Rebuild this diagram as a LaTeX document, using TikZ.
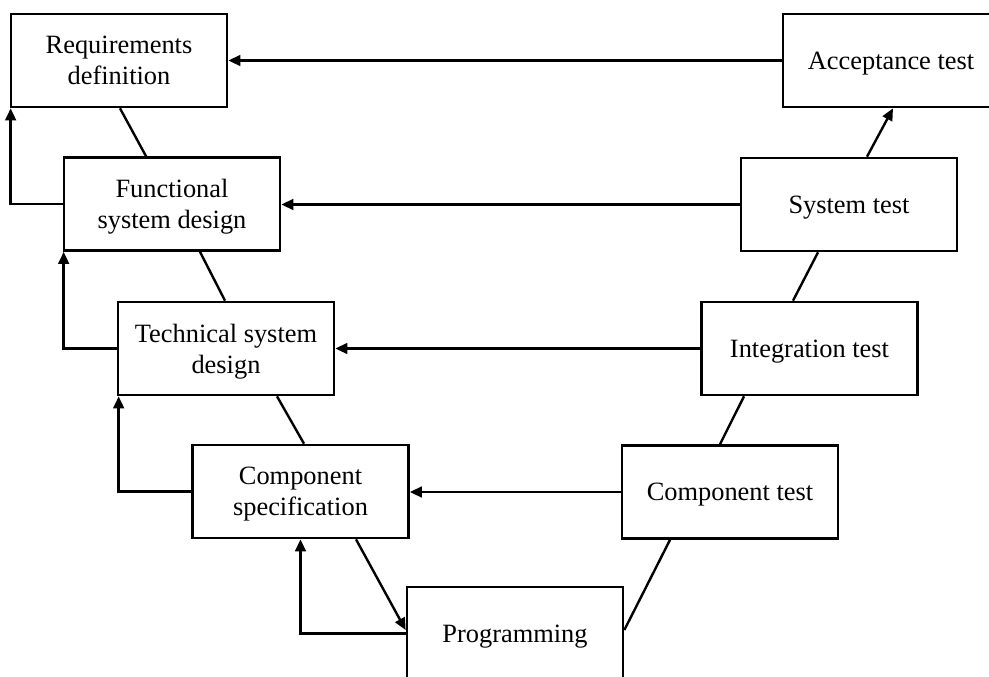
\documentclass[tikz,border=0pt]{standalone}
\usepackage{fontspec}
\setmainfont{Liberation Serif}
\usetikzlibrary{arrows.meta, calc}

\begin{document}
\begin{tikzpicture}[
  x=0.75pt, y=-0.75pt,
  box/.style={draw, line width=2pt, minimum width=162pt, minimum height=69.75pt, align=center, inner sep=2pt, text depth=-3.2pt, font=\fontsize{19.8}{23.2}\selectfont},
  link/.style={line width=1.8pt},
  arr/.style={line width=1.8pt, -{Triangle[length=9pt, width=8pt]}}
]
\fill[white] (0,0) rectangle (989,676);
\useasboundingbox (0,0) rectangle (989,676);
\clip (0,0) rectangle (989,676);

\node[box, text depth=-7.5pt] (req) at (119,60.5) {Requirements\\definition};
\node[box] (acc) at (891,60.5) {Acceptance test};
\node[box] (func) at (172,204) {Functional\\system design};
\node[box] (sys) at (849,204.5) {System test};
\node[box] (tech) at (226,348.5) {Technical system\\design};
\node[box] (int) at (809.5,348.5) {Integration test};
\node[box] (spec) at (300.5,491.5) {Component\\specification};
\node[box] (ctest) at (730,492) {Component test};
\node[box] (prog) at (515,633.5) {Programming};

\draw[arr] (acc.west) -- (acc.west -| req.east);
\draw[arr] (sys.west) -- (sys.west -| func.east);
\draw[arr] (int.west) -- (int.west -| tech.east);
\draw[arr] (ctest.west) -- (ctest.west -| spec.east);

\draw[arr] (func.west) -| ($(req.south west)+(1,0)$);
\draw[arr] (tech.west) -| ($(func.south west)+(1,0)$);
\draw[arr] (spec.west) -| ($(tech.south west)+(2,0)$);
\draw[arr] (prog.west) -| (spec.south);

\draw[link] ($(req.south)+(1,0)$) -- ($(func.north)+(-26,0)$);
\draw[link] ($(func.south)+(28,0)$) -- ($(tech.north)+(-1,0)$);
\draw[link] ($(tech.south)+(51,0)$) -- ($(spec.north)+(3.5,0)$);
\draw[arr] ($(spec.south)+(55.5,0)$) -- ($(prog.west)+(0,-3.5)$);
\draw[link] ($(prog.east)+(0,-3.5)$) -- ($(ctest.south)+(-60,0)$);
\draw[link] ($(ctest.north)+(-10,0)$) -- ($(int.south)+(-65.5,0)$);
\draw[link] ($(int.north)+(-16.5,0)$) -- ($(sys.south)+(-31,0)$);
\draw[arr] ($(sys.north)+(18,0)$) -- ($(acc.south)+(2,0)$);
\end{tikzpicture}
\end{document}
